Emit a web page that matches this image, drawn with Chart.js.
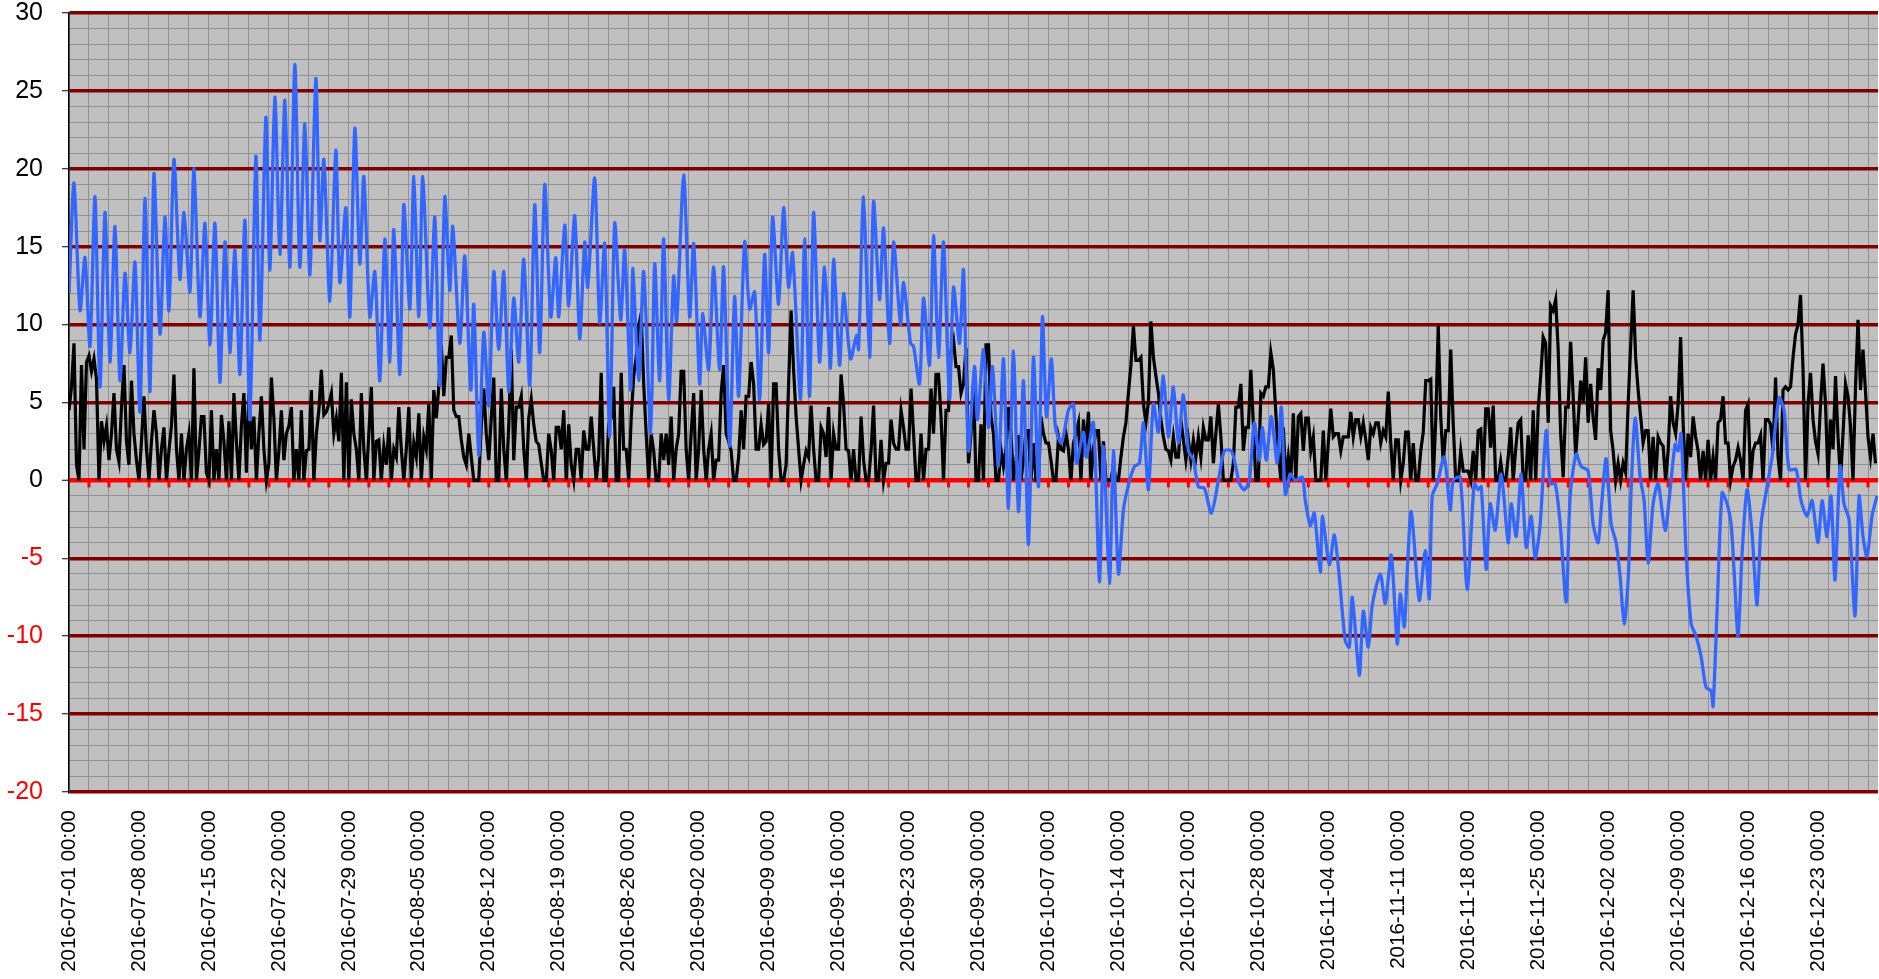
<!DOCTYPE html>
<html>
<head>
<meta charset="utf-8">
<script src="https://cdn.jsdelivr.net/npm/chart.js@4.4.1/dist/chart.umd.min.js"></script>
<style>
  body { margin: 0; background: #fff; }
  canvas { display: block; }
</style>
</head>
<body>
<canvas id="chart" width="1879" height="979"></canvas>
<script>
// blue series: [days since 2016-07-01 00:00, value]
const temperature = [
  [0,12],[0.5,19.1],[1.1,10.9],[1.6,14.3],[2.1,8.6],[2.6,18.2],[3.1,6.0],[3.6,17.2],[4.1,7.6],[4.6,16.3],[5.1,6.4],[5.6,13.3],[6.1,8.2],[6.6,14.0],[7.1,4.4],[7.6,18.1],[8.1,5.7],[8.5,19.7],[9.1,9.4],[9.6,16.9],[10.0,10.9],[10.5,20.6],[11.1,12.9],[11.5,17.2],[12.1,12.1],[12.5,20.0],[13.1,10.5],[13.6,16.5],[14.1,8.7],[14.6,16.5],[15.1,6.3],[15.6,15.3],[16.1,8.2],[16.6,14.8],[17.1,6.8],[17.6,16.7],[18.1,3.9],[18.7,20.8],[19.1,9.0],[19.7,23.3],
  [20.1,13.5],[20.6,24.6],[21.1,14.5],[21.6,24.4],[22.1,13.7],[22.6,26.7],[23.1,13.7],[23.6,22.9],[24.1,13.2],[24.7,25.8],[25.1,15.4],[25.5,20.6],[26.1,11.5],[26.7,21.2],[27.1,12.7],[27.7,17.5],[28.1,10.5],[28.6,22.6],[29.1,13.9],[29.5,19.5],[30.1,10.5],[30.6,13.4],[31.1,6.4],[31.6,15.5],[32.1,7.6],[32.5,16.1],[33.1,6.8],[33.5,17.7],[34.1,11.0],[34.5,19.5],[35.0,10.5],[35.4,19.5],[36.1,9.8],[36.6,16.9],[37.1,6.1],[37.6,18.2],[38.1,12.2],[38.4,16.3],[39.1,8.8],[39.6,14.4],[40.2,5.8],
  [40.5,11.3],[41.0,1.6],[41.5,9.5],[42.0,4.8],[42.5,13.4],[43.0,8.4],[43.5,13.4],[44.0,5.7],[44.5,11.7],[45.0,7.6],[45.5,14.2],[46.1,6.1],[46.6,17.7],[47.1,8.2],[47.6,19.0],[48.2,10.5],[48.7,14.3],[49.0,10.5],[49.6,16.4],[50.0,11.2],[50.6,17.0],[51.1,9.1],[51.6,15.3],[51.9,12.4],[52.6,19.4],[53.1,10.1],[53.6,15.2],[54.1,2.8],[54.6,16.5],[55.2,10.3],[55.6,14.8],[56.2,5.8],[56.4,13.6],[57.0,6.4],[57.5,13.4],[58.2,3.0],[58.6,13.9],[59.1,6.4],[59.5,15.5],[60.0,5.2],
  [60.5,13.1],[60.8,10.2],[61.5,19.6],[62.1,10.5],[62.5,15.2],[63.1,6.2],[63.4,10.7],[64.0,7.1],[64.5,13.7],[65.1,7.1],[65.5,13.7],[66.1,2.2],[66.6,11.8],[67.0,5.4],[67.6,15.3],[68.1,11.0],[68.6,12.1],[69.1,5.2],[69.6,14.5],[70.0,8.2],[70.4,16.9],[71.0,11.3],[71.5,17.5],[72.0,12.4],[72.4,14.6],[73.2,5.2],[73.6,15.5],[74.1,5.4],[74.5,17.2],[75.1,7.6],[75.6,13.7],[76.2,7.2],[76.5,14.2],[77.1,7.4],[77.5,12.0],[78.2,7.8],[78.8,9.3],[79.0,8.4],[79.5,18.2],[80.1,7.9],
  [80.5,17.9],[81.1,11.6],[81.5,16.2],[82.1,8.8],[82.5,15.3],[83.2,10.0],[83.5,12.7],[84.2,8.8],[84.5,8.6],[85.1,6.2],[85.5,11.7],[86.1,7.4],[86.5,15.7],[87.0,7.9],[87.5,15.3],[88.1,5.2],[88.5,12.4],[89.1,8.8],[89.5,13.5],[90.0,1.9],[90.6,7.3],[90.9,3.9],[91.5,8.4],[92.0,3.4],[92.4,7.3],[93.0,0.9],[93.5,7.8],[94.0,-1.8],[94.5,8.3],[95.0,-2.0],[95.5,6.4],[96.0,-4.1],[96.5,7.9],[97.0,-0.4],[97.4,10.5],[97.8,4.1],[98.3,7.8],[98.7,3.4],[99.3,2.4],[100.0,4.5],
  [100.5,4.9],[100.8,1.1],[101.5,3.1],[101.8,1.5],[102.5,3.7],[103.1,-6.5],[103.5,2.2],[104.1,-6.6],[104.5,1.9],[105.0,-6.0],[105.5,-1.9],[106.0,-0.3],[106.6,0.9],[107.1,1.1],[107.5,3.7],[108.0,-0.6],[108.5,4.9],[109.0,3.1],[109.5,6.7],[110.0,2.8],[110.5,6.0],[111.0,2.4],[111.5,5.5],[112.0,1.9],[112.5,1.3],[113.0,-0.4],[113.6,-0.5],[114.3,-2.1],[115.0,0],[115.6,1.9],[116.3,1.9],[116.8,0.7],[117.1,-0.2],[117.6,-0.6],[118.1,0],[118.6,3.7],[119.1,1.3],[119.4,3.4],[119.8,1.3],[120.3,4.1],
  [120.9,1.1],[121.3,4.7],[121.7,-0.9],[122.2,0.4],[122.7,0],[123.4,0.2],[123.7,-1.3],[124.2,-2.9],[124.6,-2.1],[125.2,-5.9],[125.4,-2.3],[126.1,-5.4],[126.6,-3.5],[127.1,-6.2],[127.7,-10.3],[128.1,-10.7],[128.4,-7.5],[129.1,-12.5],[129.5,-8.4],[130.0,-10.7],[130.4,-8.0],[131.2,-6.0],[131.7,-7.9],[132.3,-4.8],[132.9,-10.5],[133.2,-7.3],[133.6,-9.4],[133.9,-5.8],[134.3,-2.0],[135.1,-7.7],[135.7,-4.5],[136.1,-7.6],[136.4,-1.0],[136.9,-0.2],[137.6,1.5],[138.2,-1.9],[138.5,0],[139.2,0.2],[139.9,-7.0],[140.6,-0.2],
  [141.0,-0.6],[141.3,-0.4],[141.8,-5.7],[142.2,-1.5],[142.7,-3.2],[143.3,0.4],[144.0,-4.0],[144.3,-1.5],[144.8,-3.6],[145.3,0.4],[145.8,-4.3],[146.3,-2.3],[146.7,-5.0],[147.2,-2.8],[147.8,3.2],[148.2,-0.2],[148.7,-0.2],[149.2,-2.8],[149.8,-7.8],[150.2,-1.0],[150.8,1.7],[151.3,0.9],[152.0,0.6],[152.5,-2.8],[153.0,-4.0],[153.3,-1.9],[153.8,1.4],[154.3,-2.8],[154.8,-4.0],[155.2,-6.2],[155.6,-9.2],[156.0,-6.4],[156.3,-0.6],[156.7,4.0],[157.2,0.2],[157.6,-1.3],[158.0,-5.3],[158.5,-1.5],[159.0,-0.2],[159.7,-3.2],[160.2,-0.6],[160.7,2.3],
  [161.0,1.9],[161.3,3.0],[161.8,-4.7],[162.3,-9.2],[162.8,-10.0],[163.3,-11.3],[163.8,-13.3],[164.3,-13.5],[164.5,-14.5],[164.9,-8.3],[165.4,-0.8],[165.9,-1.5],[166.3,-2.8],[166.6,-5.8],[167.0,-10.0],[167.4,-4.7],[167.9,-0.6],[168.4,-3.4],[168.9,-8.0],[169.3,-2.8],[169.9,-0.4],[170.4,1.5],[171.1,5.3],[171.6,4.5],[172.1,0.7],[172.8,0.7],[173.3,-1.3],[173.9,-2.3],[174.4,-1.3],[175.0,-4.0],[175.4,-1.3],[175.9,-3.6],[176.3,-1.0],[176.7,-6.4],[177.2,0.9],[177.6,-1.5],[178.1,-2.5],[178.7,-8.7],[179.1,-1.0],[179.5,-3.6],[179.9,-4.9],[180.4,-2.3],[180.9,-1.0]
];

// black series: one value every 6 hours from 2016-07-01 00:00 (4 per group = 1 day)
const windSpeed = [
  4.5,6.0,8.8,1.0, 0,7.4,2.0,7.6, 8.0,7.0,7.8,6.5, 0,3.8,2.5,3.5, 1.3,3.0,5.6,2.0, 1.2,4.7,7.4,2.5, 1.0,6.4,3.0,1.3, 0,2.5,5.4,2.0, 0,2.5,4.5,3.0, 0,2.0,3.4,0,
  1.9,3.5,6.8,2.0, 0,3.0,0,2.0, 3.0,0,7.2,0, 1.9,4.1,4.1,0.5, 0,4.5,0,2.0, 0,4.2,2.5,0, 3.8,0,5.6,2.5, 0,3.5,5.6,0.5, 5.6,2.0,4.1,0, 3.0,5.4,2.0,0,
  1.1,6.6,4.0,0, 1.9,4.5,1.3,3.0, 3.5,4.7,0,2.0, 0,4.5,0,1.9, 2.0,5.8,0,3.0, 4.5,7.1,4.2,4.4, 4.9,5.6,3.0,4.0, 2.5,6.9,0,6.3, 0,5.2,3.0,2.0, 0,5.6,2.0,0,
  3.0,6.0,0,2.5, 2.6,0,2.2,1.0, 3.4,0,2.0,1.5, 4.7,2.0,0,2.0, 4.7,0,2.4,1.5, 4.3,0,2.8,2.0, 4.9,0,5.8,4.0, 6.0,8.7,5.4,7.9, 7.9,9.3,4.5,4.1, 4.1,2.6,1.5,1.0,
  3.0,1.5,0,0, 0,3.5,5.9,3.0, 1.3,4.0,6.6,0, 0,5.9,2.0,0, 3.5,8.4,1.3,4.7, 4.7,5.4,2.0,0, 4.0,5.2,3.6,2.5, 2.3,1.1,0,0, 3.0,1.9,0,3.4, 3.4,2.0,4.5,0,
  3.6,1.0,0,2.0, 2.0,0,3.2,2.0, 2.0,4.1,2.0,0, 1.5,6.9,0,0, 3.6,4.0,6.0,0, 0,6.9,2.0,2.0, 0,4.0,6.7,7.9, 9.9,10.7,6.2,3.0, 0,3.0,1.9,0, 0,3.0,1.3,3.0,
  1.0,4.1,0,2.0, 3.0,7.0,7.0,2.0, 0,3.0,5.6,0, 2.0,5.8,2.0,0, 2.0,3.0,0,1.3, 1.3,5.6,7.4,3.0, 2.5,1.9,0,0, 1.5,4.5,2.0,5.4, 5.4,7.6,6.2,2.0, 2.0,3.6,2.3,2.5,
  4.9,0,6.2,6.2, 2.0,0,0,1.0, 6.2,10.9,7.1,4.1, 2.0,0,1.0,1.9, 1.5,4.8,2.0,0, 0,3.4,3.0,1.5, 4.7,0,3.0,2.0, 2.0,6.8,4.9,2.0, 1.9,0,2.0,0, 0,4.1,1.3,0,
  0,1.9,4.8,0, 0,2.6,0,1.1, 1.1,3.9,2.4,2.0, 2.0,4.5,3.4,2.0, 2.0,5.9,3.0,0, 0,3.0,0,2.0, 2.0,5.9,3.0,6.8, 6.8,4.1,0,4.5, 4.5,8.3,9.0,7.3, 7.3,5.6,6.2,8.5,
  1.1,3.0,6.2,0, 0,3.6,0,8.7, 8.7,4.1,3.0,0, 0,2.0,0.9,2.0, 4.7,3.0,0,1.3, 2.9,0,1.3,3.2, 3.2,0,2.4,0, 0,4.1,3.0,2.4, 2.4,1.3,0,0, 2.8,2.0,1.9,3.0,
  2.0,0,2.4,3.0, 3.7,0,3.9,2.0, 4.4,0,2.0,3.2, 3.2,0,2.5,0, 0,0,1.0,0, 0,1.5,2.8,3.7, 5.6,7.4,9.9,7.7, 7.7,7.9,4.9,3.7, 5.0,10.2,7.9,6.7, 5.6,3.9,2.8,2.0,
  1.9,1.3,2.8,1.5, 1.5,3.9,2.6,1.3, 2.6,1.3,2.6,1.5, 2.8,1.5,3.4,2.6, 2.6,4.1,1.1,3.0, 4.9,2.8,0,0, 0,0,1.1,4.7, 4.7,6.2,1.9,3.4, 3.4,7.1,3.6,0, 0,5.6,5.4,6.0,
  6.0,8.2,7.1,4.3, 1.9,0,3.4,0, 1.5,0,4.3,0, 4.1,4.3,1.9,4.0, 4.0,1.9,2.8,0, 0,0,3.2,0, 2.4,4.6,2.8,3.0, 3.0,1.9,2.8,2.8, 2.8,4.4,2.8,3.9, 3.9,2.8,3.7,2.6,
  1.3,3.4,3.0,3.7, 3.7,2.4,3.2,2.8, 5.7,2.4,0,2.6, 2.6,0,1.1,3.1, 3.1,0,2.4,0, 0,1.9,3.1,6.4, 6.4,6.5,0,3.9, 9.9,4.1,1.1,3.2, 3.2,8.4,3.6,0, 0,1.9,0.6,0.6,
  0.6,0,1.9,0, 3.2,3.3,0,4.6, 4.6,2.1,4.8,0, 0,1.2,0,0, 1.5,3.4,0,2.0, 3.7,3.9,0,0, 2.9,0,4.5,0, 4.6,6.7,9.2,8.8, 3.7,11.2,10.9,11.6, 8.4,3.0,0.2,4.7,
  4.7,8.9,5.4,1.5, 3.9,6.4,5.0,7.9, 3.7,6.2,4.0,2.6, 7.2,5.8,9.0,9.5, 12.2,3.2,1.9,0, 1.1,0,1.1,0.5, 4.9,8.6,12.2,7.9, 5.8,4.1,2.4,3.2, 3.2,0,2.8,0, 2.8,2.4,2.2,0,
  1.9,5.4,3.7,3.0, 4.9,9.2,3.7,0, 3.0,1.5,4.1,2.8, 1.9,0,1.9,0, 2.6,0,1.5,0, 3.7,3.9,5.4,2.4, 2.4,0,0.9,1.3, 2.1,1.3,0,4.5, 4.9,0,1.9,2.4, 2.4,2.9,0,3.9,
  3.9,3.6,1.9,6.6, 1.5,0,5.8,6.0, 5.8,6.0,7.9,9.4, 10.0,11.9,7.1,0, 4.9,6.9,3.9,2.5, 1.7,4.9,7.5,4.9, 0,3.9,2.0,6.7, 2.8,0,3.0,6.2, 5.4,3.5,0,6.0, 10.3,5.8,8.4,5.7,
  2.8,1.5,3.0,1.1
];

// x tick labels, one every 7 days
const dateLabels = [
  '2016-07-01 00:00', '2016-07-08 00:00', '2016-07-15 00:00', '2016-07-22 00:00', '2016-07-29 00:00',
  '2016-08-05 00:00', '2016-08-12 00:00', '2016-08-19 00:00', '2016-08-26 00:00',
  '2016-09-02 00:00', '2016-09-09 00:00', '2016-09-16 00:00', '2016-09-23 00:00', '2016-09-30 00:00',
  '2016-10-07 00:00', '2016-10-14 00:00', '2016-10-21 00:00', '2016-10-28 00:00',
  '2016-11-04 00:00', '2016-11-11 00:00', '2016-11-18 00:00', '2016-11-25 00:00',
  '2016-12-02 00:00', '2016-12-09 00:00', '2016-12-16 00:00', '2016-12-23 00:00'
];

const plotBackground = {
  id: 'plotBackground',
  beforeDraw(chart) {
    const { ctx, chartArea: a } = chart;
    ctx.save();
    ctx.fillStyle = '#c0c0c0';
    ctx.fillRect(a.left, a.top, a.right - a.left, a.bottom - a.top);
    ctx.restore();
  }
};

// little red tick marks hanging under the zero line
const zeroAxisTicks = {
  id: 'zeroAxisTicks',
  beforeDatasetsDraw(chart) {
    const { ctx, scales: { x, y } } = chart;
    const y0 = y.getPixelForValue(0);
    ctx.save();
    ctx.fillStyle = '#ff0000';
    for (let d = 2; d <= 180; d += 2) {
      const px = x.getPixelForValue(d);
      ctx.fillRect(px - 1.5, y0, 3, 7);
    }
    ctx.restore();
  }
};

new Chart(document.getElementById('chart'), {
  type: 'line',
  data: {
    datasets: [
      {
        label: 'blue',
        data: temperature.map(([d, v]) => ({ x: d, y: v })),
        borderColor: '#3366ff',
        borderWidth: 3.3,
        pointRadius: 0,
        tension: 0.25,
        order: 0
      },
      {
        label: 'black',
        data: windSpeed.map((v, i) => ({ x: i * 0.25, y: v })),
        borderColor: '#000000',
        borderWidth: 3.2,
        pointRadius: 0,
        tension: 0,
        order: 1
      }
    ]
  },
  options: {
    responsive: false,
    animation: false,
    events: [],
    layout: { padding: { top: 13, right: 1, left: 0, bottom: 0 } },
    plugins: { legend: { display: false }, tooltip: { enabled: false } },
    scales: {
      x: {
        type: 'linear',
        min: 0,
        max: 181,
        afterBuildTicks: s => {
          s.ticks = [];
          for (let d = 0; d <= 180; d++) s.ticks.push({ value: d });
        },
        afterFit: s => {
          s.height = 187;
          s.paddingLeft = 0;
          s.paddingRight = 0;
        },
        ticks: {
          autoSkip: false,
          minRotation: 90,
          maxRotation: 90,
          padding: 18,
          color: '#000',
          font: { family: '"Liberation Sans", Arial, sans-serif', size: 20.5 },
          callback: v => (v % 7 === 0 ? (dateLabels[v / 7] || '') : '')
        },
        grid: {
          drawTicks: false,
          lineWidth: 1,
          color: c => (c.tick && c.tick.value % 2 === 0 ? '#909090' : 'rgba(0,0,0,0)')
        },
        border: { display: false }
      },
      y: {
        min: -20,
        max: 30,
        afterBuildTicks: s => {
          s.ticks = [];
          for (let v = -20; v <= 30; v++) s.ticks.push({ value: v });
        },
        afterFit: s => {
          s.width = 69;
          s.paddingTop = 0;
          s.paddingBottom = 0;
        },
        ticks: {
          autoSkip: false,
          padding: 19,
          font: { family: '"Liberation Sans", Arial, sans-serif', size: 25 },
          color: c => (c.tick.value < 0 ? '#ff0000' : '#000000'),
          callback: v => (v % 5 === 0 ? v : '')
        },
        grid: {
          drawTicks: true,
          tickLength: 7,
          tickWidth: 1,
          tickColor: c => (c.tick && c.tick.value % 5 === 0 ? '#000000' : 'rgba(0,0,0,0)'),
          color: c => {
            const v = c.tick ? c.tick.value : 1;
            if (v === 0) return '#ff0000';
            if (v % 5 === 0) return '#800000';
            return '#909090';
          },
          lineWidth: c => {
            const v = c.tick ? c.tick.value : 1;
            if (v === 0) return 4.5;
            if (v % 5 === 0) return 3.5;
            return 1;
          }
        },
        border: { display: true, color: '#000000', width: 1.5 }
      }
    }
  },
  plugins: [plotBackground, zeroAxisTicks]
});
</script>
</body>
</html>
